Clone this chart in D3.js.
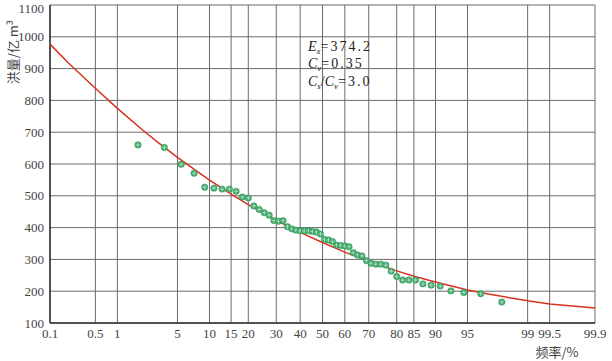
<!DOCTYPE html>
<html><head><meta charset="utf-8">
<script src="https://cdn.jsdelivr.net/npm/d3@7"></script>
<style>html,body{margin:0;padding:0;background:#fff;}svg{display:block;}</style>
</head><body>
<svg id="chart" width="612" height="361"></svg>
<script>
// ---- data ----
const freqTicks = [0.1, 0.5, 1, 5, 10, 15, 20, 30, 40, 50, 60, 70, 80, 85, 90, 95, 99, 99.5, 99.9];
const freqTickLabels = ["0.1", "0.5", "1", "5", "10", "15", "20", "30", "40", "50", "60", "70", "80", "85", "90", "95", "99", "99.5", "99.9"];
const floodTicks = [100, 200, 300, 400, 500, 600, 700, 800, 900, 1000, 1100];

// theoretical frequency curve (P-III), frequency % and flood volume
const curveFreq = [0.1, 0.2, 0.5, 1, 2, 3, 5, 10, 15, 20, 30, 40, 50, 60, 70, 80, 85, 90, 95, 97, 99, 99.5, 99.9];
const curveFlood = [977, 917, 838, 775, 710, 671, 621, 549, 505, 472, 423, 385, 353, 323, 294, 264, 247, 229, 204, 191, 170, 160, 147];

// observed points, empirical frequency % and flood volume
const dotFreq = [1.82, 3.64, 5.45, 7.27, 9.09, 10.91, 12.73, 14.55, 16.36, 18.18, 20.00, 21.82, 23.64, 25.45, 27.27, 29.09, 30.91, 32.73, 34.55, 36.36, 38.18, 40.00, 41.82, 43.64, 45.45, 47.27, 49.09, 50.91, 52.73, 54.55, 56.36, 58.18, 60.00, 61.82, 63.64, 65.45, 67.27, 69.09, 70.91, 72.73, 74.55, 76.36, 78.18, 80.00, 81.82, 83.64, 85.45, 87.27, 89.09, 90.91, 92.73, 94.55, 96.36, 97.9];
const dotFlood = [660, 652, 599, 571, 527, 524, 521, 521, 514, 496, 493, 468, 457, 447, 439, 422, 420, 422, 403, 396, 392, 390, 390, 390, 388, 386, 380, 363, 361, 356, 345, 344, 342, 340, 321, 314, 311, 296, 288, 285, 285, 282, 263, 246, 235, 235, 235, 223, 219, 216, 201, 196, 192, 166];

const paramLines = [
  {sym: "E", sub: "x", val: "=374.2"},
  {sym: "C", sub: "v", val: "=0.35"},
  {sym: "C", sub: "s", mid: "/", sym2: "C", sub2: "v", val: "=3.0"}
];
const yTitle = "洪量/亿 m³";
const xTitle = "频率/%";

// ---- layout ----
const L = 50, R = 595, T = 5, B = 323;

// inverse standard normal (Acklam) for probability paper
function probit(p) {
  const a = [-3.969683028665376e+01, 2.209460984245205e+02, -2.759285104469687e+02, 1.383577518672690e+02, -3.066479806614716e+01, 2.506628277459239e+00];
  const b = [-5.447609879822406e+01, 1.615858368580409e+02, -1.556989798598866e+02, 6.680131188771972e+01, -1.328068155288572e+01];
  const c = [-7.784894002430293e-03, -3.223964580411365e-01, -2.400758277161838e+00, -2.549732539343734e+00, 4.374664141464968e+00, 2.938163982698783e+00];
  const d = [7.784695709041462e-03, 3.224671290700398e-01, 2.445134137142996e+00, 3.754408661907416e+00];
  const pl = 0.02425, ph = 1 - pl;
  let q, r;
  if (p < pl) { q = Math.sqrt(-2 * Math.log(p)); return (((((c[0]*q+c[1])*q+c[2])*q+c[3])*q+c[4])*q+c[5]) / ((((d[0]*q+d[1])*q+d[2])*q+d[3])*q+1); }
  if (p <= ph) { q = p - 0.5; r = q*q; return (((((a[0]*r+a[1])*r+a[2])*r+a[3])*r+a[4])*r+a[5])*q / (((((b[0]*r+b[1])*r+b[2])*r+b[3])*r+b[4])*r+1); }
  q = Math.sqrt(-2 * Math.log(1 - p)); return -(((((c[0]*q+c[1])*q+c[2])*q+c[3])*q+c[4])*q+c[5]) / ((((d[0]*q+d[1])*q+d[2])*q+d[3])*q+1);
}
const zLin = d3.scaleLinear().domain([probit(0.001), probit(0.999)]).range([L, R]);
const x = f => zLin(probit(f / 100));
const y = d3.scaleLinear().domain([100, 1100]).range([B, T]);

const svg = d3.select("#chart");
const serif = "'Liberation Serif', 'DejaVu Serif', serif";

// grid
svg.append("g").selectAll("line").data(freqTicks).join("line")
  .attr("x1", d => x(d)).attr("x2", d => x(d)).attr("y1", T).attr("y2", B)
  .attr("stroke", "#6a6a6a").attr("stroke-width", 1);
svg.append("g").selectAll("line").data(floodTicks).join("line")
  .attr("x1", L).attr("x2", R).attr("y1", d => y(d)).attr("y2", d => y(d))
  .attr("stroke", "#6a6a6a").attr("stroke-width", 1);

// axes lines
svg.append("line").attr("x1", L).attr("x2", L).attr("y1", T).attr("y2", B).attr("stroke", "#333").attr("stroke-width", 1.5);
svg.append("line").attr("x1", L).attr("x2", R).attr("y1", B).attr("y2", B).attr("stroke", "#333").attr("stroke-width", 1.5);

// y tick labels
svg.append("g").selectAll("text").data(floodTicks).join("text")
  .attr("x", L - 6).attr("y", d => Math.max(y(d), 8)).attr("dy", "0.35em")
  .attr("text-anchor", "end").attr("font-family", serif).attr("font-size", 13)
  .attr("fill", "#444").text(d => d);

// x tick labels
svg.append("g").selectAll("text").data(freqTicks).join("text")
  .attr("x", d => x(d)).attr("y", 338)
  .attr("text-anchor", "middle").attr("font-family", serif).attr("font-size", 13)
  .attr("fill", "#444").text((d, i) => freqTickLabels[i]);

// titles
svg.append("text").attr("transform", "translate(18,52) rotate(-90)")
  .attr("text-anchor", "middle").attr("font-family", "'Noto Sans CJK SC', sans-serif")
  .attr("font-size", 13).attr("fill", "#444").text(yTitle);
svg.append("text").attr("x", 557).attr("y", 357)
  .attr("text-anchor", "middle").attr("font-family", "'Noto Sans CJK SC', sans-serif")
  .attr("font-size", 13).attr("fill", "#444").text(xTitle);

// curve
const curveData = curveFreq.map((f, i) => ({f, v: curveFlood[i]}));
svg.append("path").datum(curveData)
  .attr("d", d3.line().x(d => x(d.f)).y(d => y(d.v)).curve(d3.curveLinear))
  .attr("fill", "none").attr("stroke", "#d8321f").attr("stroke-width", 1.5);

// dots
const dots = dotFreq.map((f, i) => ({f, v: dotFlood[i]}));
const g = svg.append("g").selectAll("g").data(dots).join("g")
  .attr("transform", d => `translate(${x(d.f)},${y(d.v)})`);
g.append("circle").attr("r", 3.2).attr("fill", "#43a96b").attr("stroke", "#2f9a5a").attr("stroke-width", 0.5);
g.append("line").attr("x1", -2.2).attr("x2", 2.2).attr("y1", 0).attr("y2", 0).attr("stroke", "#b9e3c7").attr("stroke-width", 0.8);
g.append("line").attr("y1", -2.2).attr("y2", 2.2).attr("x1", 0).attr("x2", 0).attr("stroke", "#b9e3c7").attr("stroke-width", 0.8);

// parameter box text
const baselines = [51, 68, 86];
paramLines.forEach((p, i) => {
  const t = svg.append("text").attr("x", 308).attr("y", baselines[i])
    .attr("font-family", serif).attr("font-size", 14).attr("fill", "#222");
  t.append("tspan").attr("font-style", "italic").text(p.sym);
  t.append("tspan").attr("font-style", "italic").attr("font-size", 9).attr("dy", 3).text(p.sub);
  if (p.mid) {
    t.append("tspan").attr("dy", -3).text(p.mid);
    t.append("tspan").attr("font-style", "italic").text(p.sym2);
    t.append("tspan").attr("font-style", "italic").attr("font-size", 9).attr("dy", 3).text(p.sub2);
  }
  t.append("tspan").attr("dy", -3).attr("letter-spacing", 2).text(p.val);
});
</script>
</body></html>
